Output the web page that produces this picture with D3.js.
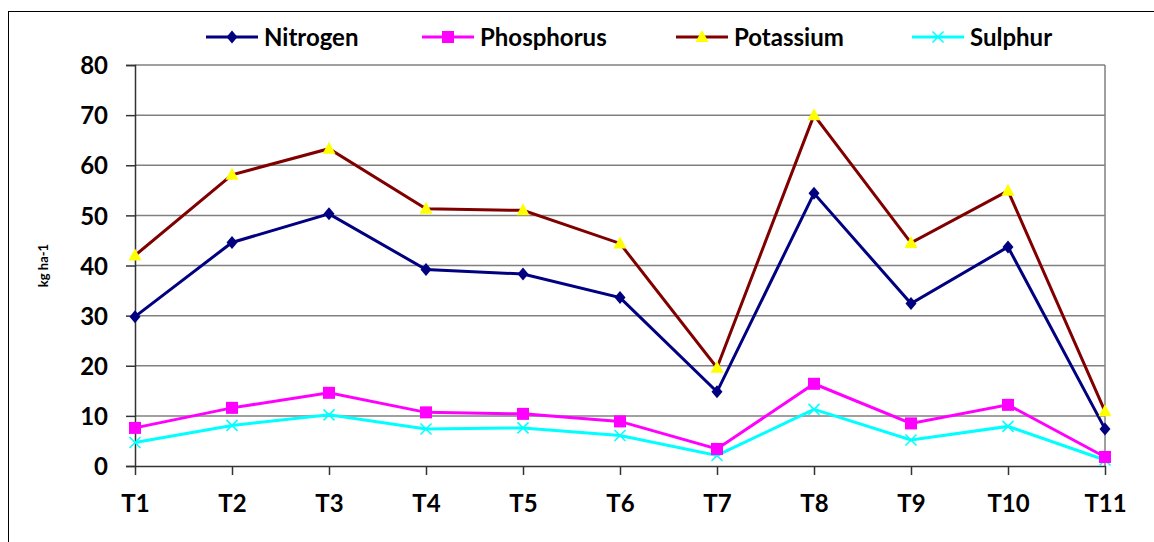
<!DOCTYPE html>
<html>
<head>
    <script src="https://d3js.org/d3.v7.min.js"></script>
    <style>
        body { margin: 0; background: white; }
        text { font-family: Lato, "Open Sans", sans-serif; font-weight: bold; fill: black; }
    </style>
</head>
<body>
<div id="chart"></div>
<script>
    // Data
    const treatments = ["T1", "T2", "T3", "T4", "T5", "T6", "T7", "T8", "T9", "T10", "T11"];
    const nitrogen   = [29.8, 44.6, 50.3, 39.2, 38.3, 33.6, 14.8, 54.4, 32.4, 43.7, 7.4];
    const phosphorus = [7.6, 11.6, 14.6, 10.7, 10.4, 8.9, 3.4, 16.4, 8.5, 12.2, 1.8];
    const potassium  = [42.0, 58.1, 63.3, 51.3, 51.0, 44.4, 19.6, 70.0, 44.5, 54.9, 10.9];
    const sulphur    = [4.7, 8.1, 10.2, 7.4, 7.6, 6.1, 2.1, 11.3, 5.2, 7.9, 1.2];
    const yTicks = [0, 10, 20, 30, 40, 50, 60, 70, 80];

    const series = [
        { name: "Nitrogen", values: nitrogen, color: "#000080", marker: "diamond", fill: "#000080" },
        { name: "Phosphorus", values: phosphorus, color: "#FF00FF", marker: "square", fill: "#FF00FF" },
        { name: "Potassium", values: potassium, color: "#800000", marker: "triangle", fill: "#FFFF00" },
        { name: "Sulphur", values: sulphur, color: "#00FFFF", marker: "cross", fill: "#00FFFF" }
    ];

    const W = 1154, H = 542;
    const margin = { top: 65, right: 49, bottom: 76, left: 135 };
    const width = W - margin.left - margin.right,
        height = H - margin.top - margin.bottom;

    const svg = d3.select("#chart").append("svg")
        .attr("width", W).attr("height", H);

    // outer chart border
    svg.append("rect")
        .attr("x", 8.5).attr("y", 11.5)
        .attr("width", W).attr("height", H)
        .attr("fill", "none").attr("stroke", "black").attr("stroke-width", 1);

    const g = svg.append("g")
        .attr("transform", "translate(" + margin.left + "," + margin.top + ")");

    const x = d3.scalePoint().domain(treatments).range([0, width]);
    const y = d3.scaleLinear().domain([0, 80]).range([height, 0]);

    // gridlines
    g.selectAll(".grid").data(yTicks.filter(d => d > 0)).enter().append("line")
        .attr("x1", 0).attr("x2", width)
        .attr("y1", d => y(d)).attr("y2", d => y(d))
        .attr("stroke", "#808080").attr("stroke-width", 1.5);

    // right edge of plot area
    g.append("line")
        .attr("x1", width).attr("x2", width).attr("y1", 0).attr("y2", height)
        .attr("stroke", "#808080").attr("stroke-width", 1.5);

    // y axis
    const yAxis = g.append("g")
        .call(d3.axisLeft(y).tickValues(yTicks).tickSize(9).tickPadding(18));
    yAxis.select(".domain").attr("stroke", "#333").attr("stroke-width", 1.5);
    yAxis.selectAll(".tick line").attr("stroke", "#333").attr("stroke-width", 1.5);
    yAxis.selectAll("text").style("font-size", "24px").attr("dy", "0.36em");

    // x axis
    const xAxis = g.append("g")
        .attr("transform", "translate(0," + height + ")")
        .call(d3.axisBottom(x).tickSize(9).tickPadding(20).tickSizeOuter(0));
    xAxis.select(".domain").attr("stroke", "#333").attr("stroke-width", 1.5);
    xAxis.selectAll(".tick line").attr("stroke", "#333").attr("stroke-width", 1.5);
    xAxis.selectAll("text").style("font-size", "24px");

    // y axis title
    svg.append("text")
        .attr("transform", "translate(48," + (margin.top + height / 2) + ") rotate(-90)")
        .attr("text-anchor", "middle")
        .style("font-size", "13px")
        .text("kg ha-1");

    function drawMarker(sel, type, fill) {
        if (type === "diamond") {
            sel.append("path").attr("d", "M0,-6.5L5.5,0L0,6.5L-5.5,0Z").attr("fill", fill);
        } else if (type === "square") {
            sel.append("rect").attr("x", -6).attr("y", -6).attr("width", 12).attr("height", 12).attr("fill", fill);
        } else if (type === "triangle") {
            sel.append("path").attr("d", "M0,-7L6.5,5L-6.5,5Z").attr("fill", fill);
        } else {
            sel.append("path").attr("d", "M-5.5,-5.5L5.5,5.5M-5.5,5.5L5.5,-5.5")
                .attr("stroke", fill).attr("stroke-width", 1.5).attr("fill", "none");
        }
    }

    const line = d3.line().x((d, i) => x(treatments[i])).y(d => y(d));

    // draw in order so that nitrogen/potassium sit above the lower series
    const drawOrder = [3, 1, 0, 2];
    drawOrder.forEach(k => {
        const s = series[k];
        g.append("path").datum(s.values)
            .attr("d", line)
            .attr("fill", "none")
            .attr("stroke", s.color)
            .attr("stroke-width", 3);
        g.selectAll(".m" + k).data(s.values).enter().append("g")
            .attr("transform", (d, i) => "translate(" + x(treatments[i]) + "," + y(d) + ")")
            .each(function () { drawMarker(d3.select(this), s.marker, s.fill); });
    });

    // legend
    const legendX = [206, 422, 676, 912];
    series.forEach((s, k) => {
        const lg = svg.append("g").attr("transform", "translate(" + legendX[k] + ",37)");
        lg.append("line").attr("x1", 0).attr("x2", 52).attr("y1", 0).attr("y2", 0)
            .attr("stroke", s.color).attr("stroke-width", 3);
        const m = lg.append("g").attr("transform", "translate(26,0)");
        drawMarker(m, s.marker, s.fill);
        lg.append("text").attr("x", 58).attr("y", 0).attr("dy", "0.36em")
            .style("font-size", "24px").text(s.name);
    });
</script>
</body>
</html>
